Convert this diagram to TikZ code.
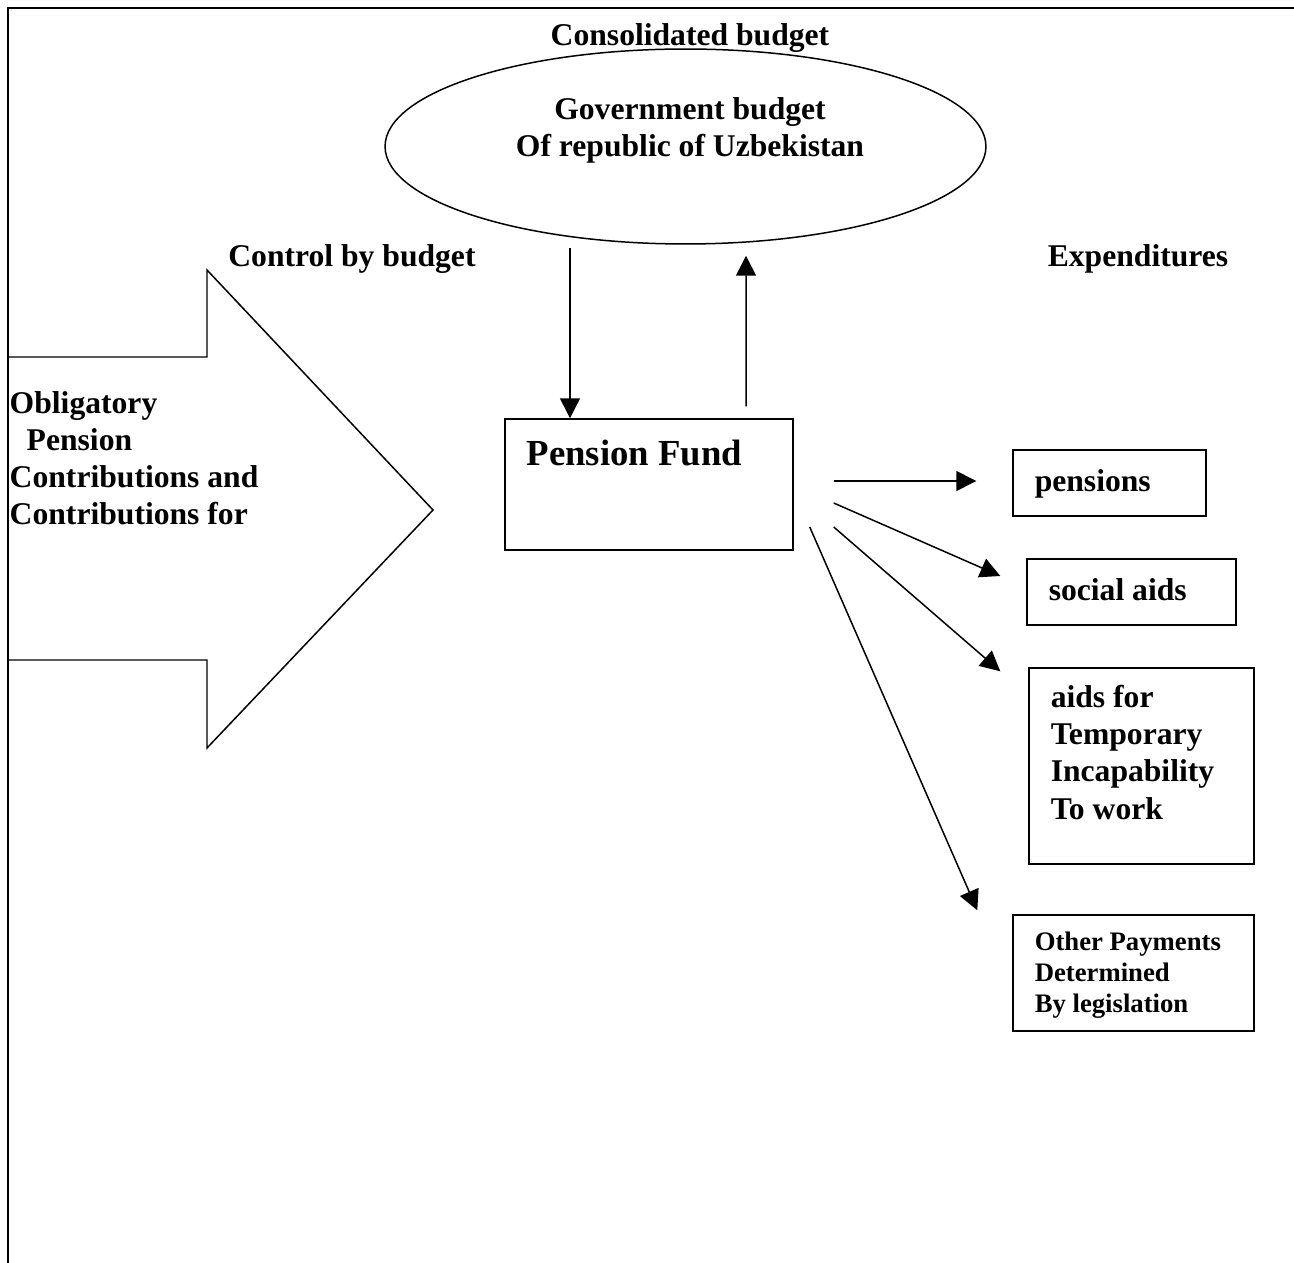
\documentclass[tikz,border=0pt]{standalone}
\usepackage{fontspec}
\setmainfont{Liberation Serif}
\usetikzlibrary{arrows.meta,calc,shapes.geometric}

\begin{document}
\begin{tikzpicture}[
			x=0.02cm, y=-0.02cm,
			line width=0.85pt,
			every node/.style={inner sep=0pt, font=\bfseries\fontsize{18}{21}\selectfont},
			budget/.style={ellipse, draw, minimum width=12.02cm, minimum height=3.9cm},
			fundbox/.style={rectangle, draw, minimum width=5.76cm, minimum height=2.62cm},
			paybox/.style={rectangle, draw},
			txt/.style={anchor=base west, align=left},
			flow/.style={draw, -{Triangle[length=0.4cm, width=0.4cm]}}
			]
			\useasboundingbox (0,0) rectangle (1294,1263);
			\draw[line width=1.1pt] (1294,8) -- (8,8) -- (8,1263);
			
			\node[budget] (gov) at (685.5,146.5) {};
			\node[anchor=base] (cons) at (690,45.7) {Consolidated budget};
			\node[anchor=base, align=center] (govtxt) at (690,156.7) {Government budget\\Of republic of Uzbekistan};
			\node[anchor=base] (ctrl) at (352,266.7) {Control by budget};
			\node[anchor=base] (exp) at (1138,266.7) {Expenditures};
			
			\draw (8,357) -- (207,357) -- (207,270) -- (433,510) -- (207,748) -- (207,660) -- (8,660);
			\node[txt] (contr) at (9,524) {Obligatory\\\hspace*{0.34cm}Pension\\Contributions and\\Contributions for};
			
			\node[fundbox] (fund) at (649,484.5) {};
			\node[txt, font=\bfseries\fontsize{20.9}{24}\selectfont] (fundtxt) at (526,465) {Pension Fund};
			
			\node[paybox, minimum width=3.86cm, minimum height=1.32cm] (pens) at (1109.5,483) {};
			\node[txt] (penstxt) at (1034,491) {pensions};
			\node[paybox, minimum width=4.18cm, minimum height=1.32cm] (soc) at (1131.5,592) {};
			\node[txt] (soctxt) at (1048,600) {social aids};
			\node[paybox, minimum width=4.5cm, minimum height=3.92cm] (tmp) at (1141.5,766) {};
			\node[txt, font=\bfseries\fontsize{18}{21.2}\selectfont] (tmptxt) at (1050,819) {aids for\\Temporary\\Incapability\\To work};
			\node[paybox, minimum width=4.82cm, minimum height=2.32cm] (oth) at (1133.5,973) {};
			\node[txt, font=\bfseries\fontsize{15.2}{17.6}\selectfont] (othtxt) at (1034,1012) {Other Payments\\Determined\\By legislation};
			
			\draw[flow] ($(gov.south)+(-115.5,3)$) -- ($(fund.north)+(-79,0)$);
			\draw[flow] ($(fund.north)+(97,-12)$) -- ($(gov.south)+(60.5,11)$);
			\draw[flow] ($(fund.east)+(40,-3.5)$) -- ($(pens.west)+(-36,-2)$);
			\draw[flow] ($(fund.east)+(40,18.5)$) -- ($(soc.west)+(-26,-16)$);
			\draw[flow] ($(fund.east)+(40,42.5)$) -- ($(tmp.north west)+(-28,4)$);
			\draw[flow] ($(fund.east)+(16,42.5)$) -- ($(oth.north west)+(-35,-4)$);
		\end{tikzpicture}
\end{document}
